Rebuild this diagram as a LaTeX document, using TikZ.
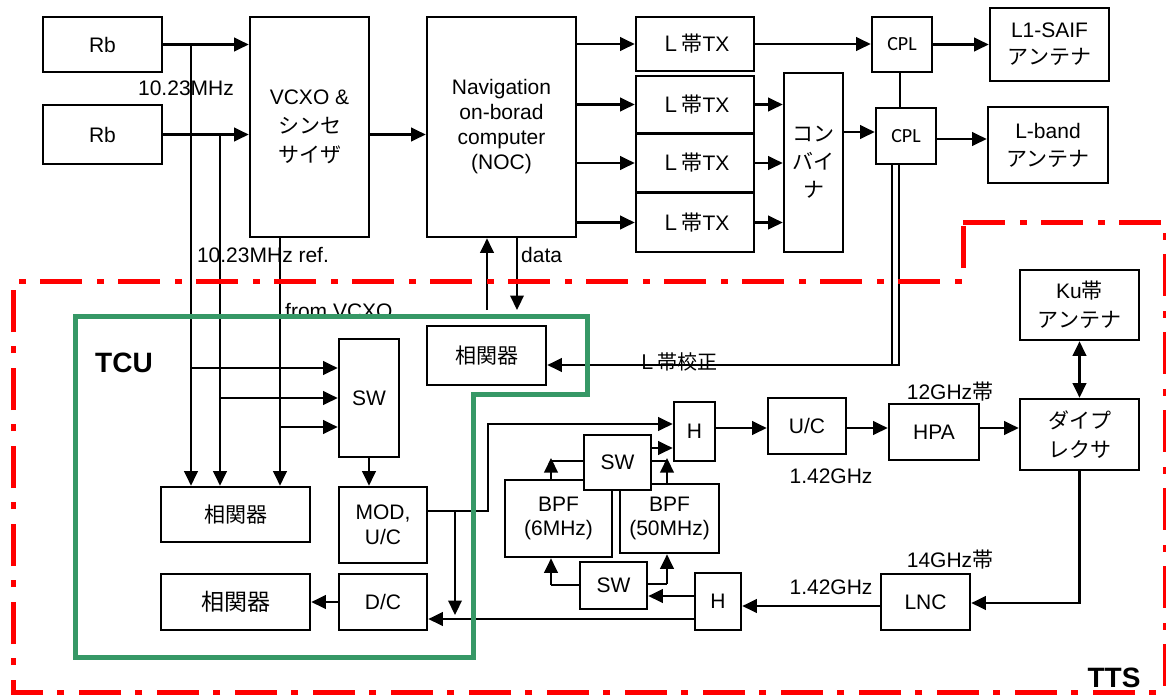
\documentclass[tikz,border=0pt]{standalone}
\usepackage{fontspec}
\setmainfont{Liberation Sans}
\newfontfamily\jp{Noto Sans CJK JP}
\newfontfamily\calf{Carlito}
\usetikzlibrary{arrows.meta,calc}
\definecolor{tcugreen}{RGB}{54,152,102}
\tikzset{
 box/.style={draw, fill=white, line width=2.6pt, inner sep=0pt, align=center, font=\fontsize{21}{25}\selectfont},
 conn/.style={line width=2.2pt},
 arr/.style={conn, -{Triangle[length=14.5pt,width=13.5pt]}},
 barr/.style={conn, {Triangle[length=14.5pt,width=13.5pt]}-{Triangle[length=14.5pt,width=13.5pt]}},
 lbl/.style={inner sep=0pt, font=\fontsize{21}{25}\selectfont},
 bold/.style={inner sep=0pt, font=\fontsize{28}{32}\selectfont\bfseries},
 redb/.style={draw=red, line width=5pt, dash pattern=on 42pt off 15pt on 7pt off 14pt},
 greenb/.style={draw=tcugreen, line width=5pt},
}
\newcommand\mybox[7][]{\node[box,minimum width={(#5-#3)*1pt},minimum height={(#6-#4)*1pt},#1] (#2) at ({(#3+#5)/2},{(#4+#6)/2}) {#7};}
\begin{document}
\begin{tikzpicture}[x=1pt,y=-1pt]
\useasboundingbox (0,0) rectangle (1166,694);
% ---------- boxes ----------
\mybox{Rb1}{43}{17}{162}{72}{Rb}
\mybox{Rb2}{43}{105}{162}{164}{Rb}
\mybox[font=\fontsize{21}{29}\selectfont]{VCXO}{250}{17}{369}{237}{VCXO \&\\{\jp シンセ}\\{\jp サイザ}}
\mybox{NOC}{427}{17}{576}{237}{Navigation\\on-borad\\computer\\(NOC)}
\mybox{TX1}{636}{17}{754}{71}{{\jp Ｌ帯}TX}
\mybox{TX2}{636}{76}{754}{133}{{\jp Ｌ帯}TX}
\mybox{TX3}{636}{134}{754}{192}{{\jp Ｌ帯}TX}
\mybox{TX4}{636}{193}{754}{252}{{\jp Ｌ帯}TX}
\mybox[font=\fontsize{21}{28}\selectfont]{Comb}{784}{73}{843}{252}{{\jp コン}\\{\jp バイ}\\{\jp ナ}}
\mybox[font=\calf\fontsize{20}{24}\selectfont]{CPL1}{872}{17}{932}{72}{CPL}
\mybox[font=\calf\fontsize{20}{24}\selectfont]{CPL2}{876}{108}{936}{164}{CPL}
\mybox[font=\fontsize{21}{27}\selectfont]{L1}{990}{8}{1109}{81}{L1-SAIF\\{\jp アンテナ}}
\mybox[font=\fontsize{21}{28}\selectfont]{Lb}{988}{107}{1108}{183}{L-band\\{\jp アンテナ}}
\mybox{Corr1}{427}{326}{546}{385}{{\jp 相関器}}
\mybox{SW1}{339}{339}{399}{457}{SW}
\mybox{C2}{161}{487}{310}{542}{{\jp 相関器}}
\mybox{MOD}{339}{487}{427}{563}{MOD,\\U/C}
\mybox[font=\fontsize{23}{27}\selectfont]{C3}{161}{574}{310}{630}{{\jp 相関器}}
\mybox{DC}{339}{574}{427}{630}{D/C}
\mybox{H1}{674}{402}{715}{461}{H}
\mybox{UC}{768}{398}{846}{454}{U/C}
\mybox[font=\fontsize{21}{24}\selectfont]{BPF6}{505}{480}{612}{557}{BPF\\(6MHz)}
\mybox[font=\fontsize{21}{24}\selectfont]{BPF50}{620}{484}{719}{553}{BPF\\(50MHz)}
\mybox{SWu}{584}{435}{651}{490}{SW}
\mybox{SWl}{580}{562}{647}{609}{SW}
\mybox{H2}{695}{573}{741}{630}{H}
\mybox{HPA}{889}{404}{979}{460}{HPA}
\mybox[font=\fontsize{21}{29}\selectfont]{Dip}{1020}{399}{1139}{470}{{\jp ダイプ}\\{\jp レクサ}}
\mybox[font=\fontsize{21}{29}\selectfont]{Ku}{1020}{270}{1139}{340}{Ku{\jp 帯}\\{\jp アンテナ}}
\mybox{LNC}{881}{574}{970}{630}{LNC}
% ---------- coordinates ----------
\coordinate (xa) at (191,0); \coordinate (xb) at (220,0); \coordinate (xc) at (280,0);
\coordinate (ya) at (0,368); \coordinate (yb) at (0,398); \coordinate (yc) at (0,427);
\coordinate (nu) at (487,310); \coordinate (nd) at (517,310);
\coordinate (k1) at (892,0); \coordinate (k2) at (899,0); \coordinate (yk) at (0,365);
\coordinate (kc) at (900,0); \coordinate (y132) at (0,132); \coordinate (y139) at (0,139);
\coordinate (m1) at (488,511); \coordinate (m2) at (488,424);
\coordinate (mb) at (455,511); \coordinate (mbe) at (455,615); \coordinate (y619) at (0,619);
\coordinate (p6) at (551,461); \coordinate (p6t) at (551,458);
\coordinate (p50) at (667,461); \coordinate (p50t) at (667,458);
\coordinate (q6) at (551,585); \coordinate (q50) at (667,584);
\coordinate (y448) at (0,448); \coordinate (y596) at (0,596); \coordinate (y606) at (0,606);
\coordinate (y428) at (0,428); \coordinate (y603) at (0,603);
% ---------- connectors ----------
\draw[arr] (Rb1.east) -- (Rb1.east -| VCXO.west);
\draw[arr] (Rb2.east) -- (Rb2.east -| VCXO.west);
\draw[arr] (VCXO.east |- Rb2.east) -- (NOC.west |- Rb2.east);
\draw[arr] (Rb1.east -| xa) -- (C2.north -| xa);
\draw[arr] (xa |- ya) -- (SW1.west |- ya);
\draw[arr] (Rb2.east -| xb) -- (C2.north -| xb);
\draw[arr] (xb |- yb) -- (SW1.west |- yb);
\draw[arr] (VCXO.south -| xc) -- (C2.north -| xc);
\draw[arr] (xc |- yc) -- (SW1.west |- yc);
\foreach \t in {TX1,TX2,TX3,TX4} {\draw[arr] (NOC.east |- \t.west) -- (\t.west);}
\foreach \t in {TX2,TX3,TX4} {\draw[arr] (\t.east) -- (\t.east -| Comb.west);}
\draw[arr] (TX1.east) -- (TX1.east -| CPL1.west);
\draw[arr] (CPL1.east) -- (CPL1.east -| L1.west);
\draw[conn] (CPL1.south -| kc) -- (CPL2.north -| kc);
\draw[arr] (Comb.east |- y132) -- (CPL2.west |- y132);
\draw[arr] (CPL2.east |- y139) -- (Lb.west |- y139);
\draw[conn] (CPL2.south -| k1) -- (k1 |- yk);
\draw[arr] (CPL2.south -| k2) -- (k2 |- yk) -- (Corr1.east |- yk);
\draw[arr] (nu) -- (nu |- NOC.south);
\draw[arr] (nd |- NOC.south) -- (nd);
\draw[arr] (SW1.south) -- (SW1.south |- MOD.north);
\draw[arr] (MOD.east |- m1) -- (m1) -- (m2) -- (H1.west |- m2);
\draw[arr] (mb) -- (mbe);
\draw[arr] (H2.west |- y619) -- (DC.east |- y619);
\draw[arr] (DC.west) -- (C3.east);
\draw[arr] (SWu.east |- y448) -- (H1.west |- y448);
\draw[conn] (SWu.west |- p6) -- (p6);
\draw[arr] (BPF6.north -| p6) -- (p6t);
\draw[conn] (SWu.east |- p50) -- (p50);
\draw[arr] (BPF50.north -| p50) -- (p50t);
\draw[conn] (SWl.west |- q6) -- (q6);
\draw[arr] (q6) -- (q6 |- BPF6.south);
\draw[conn] (SWl.east |- q50) -- (q50);
\draw[arr] (q50) -- (q50 |- BPF50.south);
\draw[arr] (H2.west |- y596) -- (SWl.east |- y596);
\draw[arr] (LNC.west |- y606) -- (H2.east |- y606);
\draw[arr] (H1.east |- y428) -- (UC.west |- y428);
\draw[arr] (UC.east |- y428) -- (HPA.west |- y428);
\draw[arr] (HPA.east |- y428) -- (Dip.west |- y428);
\draw[barr] (Ku.south) -- (Dip.north);
\draw[arr] (Dip.south) -- (Dip.south |- y603) -- (LNC.east |- y603);
% ---------- labels ----------
\node[lbl] (l1023) at (186,88) {10.23MHz};
\node[lbl] (lref) at (263,255) {10.23MHz ref.};
\node[lbl,anchor=base west] (lvcxo) at (285,318) {from VCXO};
\node[lbl,anchor=west] (ldata) at (521,255) {data};
\node[lbl,font=\jp\fontsize{20}{24}\selectfont] (lcal) at (677,362) {Ｌ帯校正};
\node[lbl] (l12) at (950,392) {12GHz{\jp 帯}};
\node[lbl] (l142a) at (831,476) {1.42GHz};
\node[lbl] (l14) at (950,560) {14GHz{\jp 帯}};
\node[lbl] (l142b) at (831,587) {1.42GHz};
\node[bold] (tcu) at (124,363) {TCU};
\node[bold] (tts) at (1114,678) {TTS};
% ---------- boundaries ----------
\draw[greenb] (75,316) -- (587,316) -- (587,394) -- (473,394) -- (473,657) -- (75,657) -- cycle;
\draw[redb] (963,222) -- (1165,222) -- (1165,692) -- (13,692) -- (13,281) -- (963,281) -- cycle;
\end{tikzpicture}
\end{document}
